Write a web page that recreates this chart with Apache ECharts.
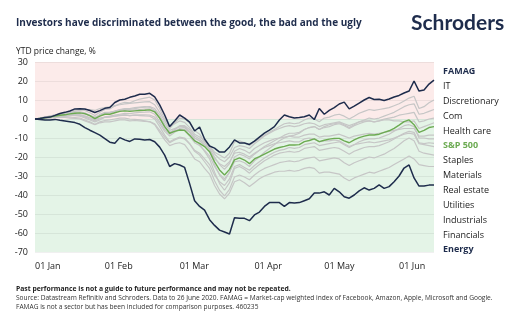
<!DOCTYPE html>
<html>
<head>
<meta charset="utf-8">
<script src="https://cdn.jsdelivr.net/npm/echarts@6/dist/echarts.min.js"></script>
<style>html,body{margin:0;padding:0;background:#fff}#c{width:529px;height:324px}</style>
</head>
<body>
<div id="c"></div>
<script>
// ---- data (YTD price change, %) ----
var tickLabelIdx = [0, 14, 29, 44, 58, 73];
var tickLabelText = ['01 Jan', '01 Feb', '01 Mar', '01 Apr', '01 May', '01 Jun'];
var yTicks = [-70, -60, -50, -40, -30, -20, -10, 0, 10, 20, 30];

var famag = [0,0.3,0.8,1.0,1.9,2.9,3.5,4.2,5.3,5.4, 5.3,4.5,3.4,4.4,5.6,6.0,8.7,10,10.4,11.4, 12.1,13,13,13.5,11.6,7.4,2.1,-4,-1,2.1, 0.5,-1.6,-6.3,-4.2,-10.5,-14.2,-15.3,-17.4,-17.4,-14.7, -11,-12.6,-12.6,-13.4,-11.6,-9.5,-7.4,-5.8,-4,-0.5, 2.1,1.2,0.5,0.8,1.2,2.1,-0.3,5.5,2.5,4.5, 6.0,7.9,8.9,5.3,6.8,8.4,10,11.3,10.3,10.4, 9.7,10.5,11.6,12.4,13.7,14.7,20,14.7,15.3,18.4,20.5];
var it = [0,0.4,0.8,1.4,2.2,2.8,3.3,4.0,4.6,4.9, 4.5,3.3,1.8,3.5,5.0,5.3,6.8,8.0,8.8,8.5, 9.6,10.5,11.0,11.5,10.0,5.5,0.0,-4.0,-2.5,-1.0, -1.8,-4.5,-8.0,-9.5,-11.5,-14.0,-17.5,-19.0,-20.5,-18.0, -12.0,-11.5,-12.5,-14.0,-12.0,-10.5,-8.5,-7.0,-5.5,-4.0, -2.5,-2.0,-2.5,-2.0,-0.5,0.5,0.0,-1.5,0.5,1.0, 2.0,2.5,1.5,0.0,1.5,3.0,4.0,5.0,4.5,5.0, 5.5,6.0,7.0,8.0,9.5,11.0,12.0,5.5,6.5,8.5,10.0];
var discretionary = [0,0.2,0.5,0.8,1.2,1.4,1.5,1.8,2.0,2.2, 1.5,0.5,-0.5,2.5,3.5,3.5,4.0,4.5,4.8,4.5, 4.8,5.0,5.2,5.3,4.0,0.5,-4.0,-7.0,-6.0,-5.5, -6.0,-9.0,-12.5,-14.0,-16.5,-19.5,-25.0,-29.0,-31.5,-28.0, -22.5,-22.0,-23.0,-25.0,-22.0,-20.0,-17.5,-15.5,-13.5,-11.5, -10.0,-9.0,-8.5,-7.5,-5.5,-4.5,-4.0,-5.5,-4.0,-3.0, -2.5,-2.0,-3.0,-4.5,-3.0,-1.5,-0.5,0.5,0.0,0.5, 1.5,2.5,3.5,5.0,6.5,7.5,8.0,2.5,3.0,4.0,5.0];
var com = [0,0.5,1.0,1.5,2.0,2.5,2.8,3.2,3.5,3.8, 3.2,2.0,0.5,2.0,3.0,3.2,4.0,4.8,5.2,5.0, 5.5,6.0,6.3,6.5,5.5,2.0,-2.5,-6.0,-5.0,-4.0, -4.5,-7.0,-10.0,-11.5,-13.5,-16.0,-21.0,-23.5,-25.0,-22.5, -18.0,-17.5,-18.5,-20.0,-18.0,-16.5,-14.5,-13.0,-11.5,-10.0, -8.5,-7.5,-7.5,-7.0,-5.5,-4.5,-4.0,-5.5,-4.5,-4.0, -3.0,-2.5,-3.5,-5.0,-3.5,-2.5,-1.5,-1.0,-1.5,-1.0, 0.0,0.5,1.0,2.0,2.5,3.0,3.5,-1.5,-1.0,0.0,0.5];
var healthCare = [0,0.5,1.0,1.3,1.8,2.0,2.2,2.0,1.8,1.5, 0.5,-0.5,-1.5,-0.5,1.0,1.5,2.0,2.5,3.0,2.8, 3.2,3.5,3.6,3.8,2.5,-1.5,-5.5,-8.0,-5.5,-3.5, -3.5,-5.5,-9.0,-10.5,-12.5,-14.5,-18.5,-21.0,-22.5,-20.0, -15.0,-14.0,-14.5,-15.5,-13.0,-11.0,-9.0,-7.5,-6.0,-5.0, -4.0,-3.5,-4.0,-3.5,-2.5,-2.0,-2.5,-4.0,-3.0,-2.5, -2.0,-1.5,-2.5,-3.5,-2.5,-1.5,-1.0,-1.0,-1.5,-1.0, -0.5,-0.5,-1.0,-1.0,-1.5,-1.5,-1.0,-5.0,-4.0,-3.0,-2.0];
var sp500 = [0,0.3,0.6,1.0,1.5,2.0,2.2,2.7,3.0,3.2, 2.8,1.8,0.2,1.5,2.5,2.5,3.3,4.0,4.3,4.0, 4.3,4.5,4.6,4.8,3.8,0.5,-4.0,-7.5,-6.5,-5.8, -6.0,-8.5,-11.5,-12.8,-14.5,-17.2,-22.5,-26.8,-29.5,-26.5, -21.5,-20.5,-21.6,-23.5,-21,-19.8,-18.5,-17.2,-15.8,-15, -14.4,-13.7,-13.7,-13.5,-11.9,-11.3,-10.5,-11.9,-11.2,-10.6, -10.2,-10.2,-11.5,-12.5,-11,-9.8,-9,-8.4,-8.4,-8.0, -7,-6.2,-4.9,-3.2,-1.4,-0.5,-3.0,-7,-6,-4.5,-4];
var staples = [0,0.2,0.5,0.8,1.2,1.5,1.8,2.0,2.2,2.0, 1.5,0.8,-0.2,0.5,1.0,1.2,1.5,1.8,2.0,1.8, 2.0,2.2,2.2,2.1,1.0,-2.5,-6.5,-9.0,-7.0,-5.0, -5.5,-7.0,-10.0,-11.5,-13.5,-15.5,-20.0,-24.0,-26.5,-23.5, -17.0,-15.5,-16.5,-18.0,-15.5,-14.0,-12.5,-11.5,-10.5,-10.0, -9.5,-9.0,-9.5,-9.5,-8.5,-8.0,-8.0,-9.5,-9.0,-9.0, -8.5,-8.0,-9.0,-10.0,-9.0,-8.5,-8.0,-7.5,-8.0,-7.5, -7.0,-6.5,-6.0,-5.5,-5.0,-5.0,-5.0,-9.0,-9.0,-8.5,-8.5];
var materials = [0,0.0,0.3,0.5,0.8,1.0,0.8,0.5,0.3,0.0, -1.0,-2.0,-3.0,-2.0,-1.5,-1.5,-1.0,-0.5,-0.5,-1.0, -0.8,-1.0,-1.2,-1.4,-2.5,-6.0,-9.5,-12.5,-11.0,-10.0, -10.5,-13.0,-16.5,-18.0,-21.0,-24.0,-29.5,-33.0,-35.0,-31.5, -25.0,-24.0,-25.5,-27.0,-24.5,-22.5,-20.5,-19.0,-17.5,-16.5, -16.0,-15.0,-15.5,-15.0,-13.5,-13.0,-12.5,-14.0,-13.5,-13.0, -12.5,-12.0,-13.5,-15.0,-13.5,-12.0,-11.0,-10.5,-10.5,-10.0, -9.0,-8.0,-6.5,-5.0,-3.5,-3.0,-4.0,-10.0,-10.0,-10.5,-10.5];
var realEstate = [0,0.3,0.8,1.2,1.8,2.2,2.5,2.8,3.0,2.8, 2.5,1.8,1.0,2.0,3.0,3.5,4.2,5.0,5.5,5.5, 6.0,6.3,6.5,6.2,4.5,0.5,-4.0,-7.5,-5.5,-4.0, -4.0,-6.5,-11.0,-13.5,-17.0,-21.0,-28.0,-34.0,-37.5,-33.5, -26.0,-25.0,-26.5,-28.5,-26.0,-24.0,-22.0,-20.5,-19.0,-18.0, -17.5,-17.0,-17.5,-17.0,-15.5,-15.0,-14.5,-16.5,-16.0,-15.5, -15.0,-15.5,-17.0,-18.5,-17.0,-16.0,-15.0,-14.5,-14.5,-14.0, -13.0,-12.0,-10.5,-9.0,-7.5,-6.5,-7.0,-12.5,-13.0,-12.5,-12.8];
var utilities = [0,0.5,1.0,1.5,2.0,2.5,3.0,3.5,4.0,4.5, 5.0,5.0,4.5,5.5,6.0,6.5,7.0,7.5,8.0,8.2, 8.5,8.8,9.0,9.1,7.5,3.5,-1.0,-5.0,-2.0,0.5, 0.0,-2.0,-6.0,-8.0,-12.0,-16.0,-24.0,-29.5,-32.5,-28.0, -20.0,-18.5,-19.5,-21.0,-18.5,-16.5,-15.0,-14.0,-13.0,-12.5, -12.0,-11.5,-12.0,-12.0,-10.5,-10.0,-10.5,-12.0,-11.5,-11.5, -11.0,-11.5,-13.0,-14.5,-13.5,-13.0,-12.5,-12.0,-12.5,-12.0, -11.5,-11.0,-10.0,-9.0,-8.0,-7.5,-8.0,-13.0,-13.5,-14.0,-14.5];
var industrials = [0,0.3,0.5,0.8,1.2,1.6,1.8,2.0,2.2,2.0, 1.0,0.0,-1.0,0.0,0.8,1.0,1.5,2.0,2.2,1.8, 2.0,1.8,1.6,1.5,0.0,-4.0,-8.5,-12.0,-10.5,-9.5, -10.0,-13.0,-17.0,-19.0,-22.5,-26.0,-32.5,-37.5,-40.5,-37.0, -30.5,-29.5,-30.5,-32.0,-29.5,-27.5,-26.0,-25.0,-24.0,-23.0, -22.5,-22.0,-22.5,-22.0,-21.0,-20.5,-20.0,-22.0,-21.5,-21.0, -20.5,-21.0,-23.0,-24.5,-23.0,-22.0,-21.0,-20.0,-20.5,-19.5, -18.5,-17.0,-15.5,-13.5,-11.5,-10.0,-11.5,-17.0,-18.0,-18.5,-19.0];
var financials = [0,0.3,0.5,1.0,1.3,1.5,1.2,1.0,0.8,0.5, -0.5,-1.5,-2.8,-1.5,-0.8,-0.5,0.0,0.5,0.5,0.0, -0.2,-0.5,-1.0,-1.5,-3.0,-7.0,-11.0,-14.0,-13.0,-12.5, -13.5,-17.0,-21.0,-22.5,-26.0,-29.0,-35.0,-39.5,-42.0,-39.0, -33.0,-32.0,-33.5,-35.5,-33.5,-31.5,-30.0,-29.0,-28.0,-27.5, -27.5,-27.0,-27.5,-27.0,-26.0,-25.5,-26.0,-28.5,-28.0,-28.0, -28.5,-29.0,-31.0,-32.5,-31.0,-30.0,-29.0,-28.0,-28.5,-27.5, -26.5,-25.5,-24.0,-22.5,-21.0,-19.5,-21.0,-24.0,-24.5,-25.0,-25.0];
var energy = [0,-0.3,-0.5,-0.5,-0.2,-0.7,-1.1,-1.5,-1.9,-2.8, -4.5,-5.9,-7.2,-8.5,-10.3,-12.2,-12.8,-9.8,-11,-11.8, -10.5,-10.7,-11,-10.8,-12,-14.8,-19,-25,-23.5,-24.2, -25.5,-34,-43,-46,-48,-53,-56,-58.5,-59.5,-60.5, -52,-52.3,-52.3,-53.5,-50.5,-49,-46,-44,-44,-44, -46,-44,-44.2,-44,-43,-42,-39,-39,-38.3,-40, -36.5,-38.3,-40.9,-41.7,-40,-37.8,-36.2,-37.4,-36.5,-34.7, -36.5,-35.6,-33,-30,-25.8,-24.2,-31,-35.3,-35.3,-34.8,-34.7];

var categories = famag.map(function (_, i) { return String(i); });

var NAVY = '#1e2c4c', GREY = '#c6c6c6', GREEN = '#6cab52';
var FONT = '"Open Sans", "Noto Sans", sans-serif';

var greySeries = [
  ['IT', it], ['Discretionary', discretionary], ['Com', com], ['Health care', healthCare],
  ['Staples', staples], ['Materials', materials], ['Real estate', realEstate],
  ['Utilities', utilities], ['Industrials', industrials], ['Financials', financials]
];

var series = greySeries.map(function (s) {
  return { name: s[0], type: 'line', data: s[1], symbol: 'none', color: GREY,
           lineStyle: { width: 1.2, color: GREY } };
});
series.push({ name: 'S&P 500', type: 'line', data: sp500, symbol: 'none', color: GREEN, lineStyle: { width: 1.4, color: GREEN } });
series.push({ name: 'Energy', type: 'line', data: energy, symbol: 'none', color: NAVY, lineStyle: { width: 1.5, color: NAVY } });
series.push({ name: 'FAMAG', type: 'line', data: famag, symbol: 'none', color: NAVY, lineStyle: { width: 1.5, color: NAVY } });

var legendOrder = ['FAMAG', 'IT', 'Discretionary', 'Com', 'Health care', 'S&P 500', 'Staples',
  'Materials', 'Real estate', 'Utilities', 'Industrials', 'Financials', 'Energy'];
var legendData = legendOrder.map(function (n) {
  var st = { color: '#222', fontWeight: 'normal' };
  if (n === 'FAMAG' || n === 'Energy') st = { color: NAVY, fontWeight: 'bold' };
  if (n === 'S&P 500') st = { color: GREEN, fontWeight: 'bold' };
  return { name: n, textStyle: st };
});

var GREENBG = '#e4f4e7', PINKBG = '#fcebea';

var chart = echarts.init(document.getElementById('c'), null, { renderer: 'canvas' });
chart.setOption({
  animation: false,
  backgroundColor: '#fff',
  textStyle: { fontFamily: FONT },
  title: [
    { text: 'Investors have discriminated between the good, the bad and the ugly', left: 16, top: 18, padding: 0,
      textStyle: { fontSize: 10, fontWeight: 'bold', color: NAVY, fontFamily: FONT } },
    { text: 'Schroders', left: 411, top: 13, padding: 0,
      textStyle: { fontSize: 21, fontWeight: 'bold', color: NAVY, fontFamily: 'Lato, "Open Sans", sans-serif' } },
    { text: 'YTD price change, %', left: 16, top: 47, padding: 0,
      textStyle: { fontSize: 8.5, fontWeight: 'normal', color: '#222', fontFamily: FONT } },
    { text: 'Past performance is not a guide to future performance and may not be repeated.', left: 16, top: 286, padding: 0,
      textStyle: { fontSize: 6.8, fontWeight: 'bold', color: '#222', fontFamily: FONT } },
    { text: 'Source: Datastream Refinitiv and Schroders. Data to 26 June 2020. FAMAG = Market-cap weighted index of Facebook, Amazon, Apple, Microsoft and Google.', left: 16, top: 295, padding: 0,
      textStyle: { fontSize: 6.6, fontWeight: 'normal', color: '#333', fontFamily: FONT } },
    { text: 'FAMAG is not a sector but has been included for comparison purposes. 460235', left: 16, top: 303.5, padding: 0,
      textStyle: { fontSize: 6.6, fontWeight: 'normal', color: '#333', fontFamily: FONT } }
  ],
  legend: {
    orient: 'vertical', left: 438, top: 66.5, padding: 0,
    icon: 'none', itemWidth: 0, itemHeight: 10, itemGap: 4.86,
    selectedMode: false,
    textStyle: { fontSize: 9, lineHeight: 10, fontFamily: FONT },
    data: legendData
  },
  grid: { left: 35, right: 95, top: 62, height: 190 },
  xAxis: {
    type: 'category', data: categories, boundaryGap: false,
    axisLine: { show: false }, axisTick: { show: false },
    splitLine: { show: false },
    axisLabel: {
      interval: function (idx) { return tickLabelIdx.indexOf(idx) >= 0; },
      formatter: function (v, idx) { var k = tickLabelIdx.indexOf(Number(v)); return k >= 0 ? tickLabelText[k] : ''; },
      align: 'left', margin: 10, fontSize: 9, color: '#222', fontFamily: FONT
    }
  },
  yAxis: {
    type: 'value', min: yTicks[0], max: yTicks[yTicks.length - 1], interval: 10,
    axisLine: { show: false }, axisTick: { show: false },
    axisLabel: { fontSize: 9, color: '#222', margin: 7, fontFamily: FONT },
    splitLine: { show: true, lineStyle: { color: 'rgba(0,0,0,0.06)', width: 1 } },
    splitArea: { show: true, areaStyle: { color: [GREENBG, GREENBG, GREENBG, GREENBG, GREENBG, GREENBG, GREENBG, PINKBG, PINKBG, PINKBG] } }
  },
  series: series
});
</script>
</body>
</html>
